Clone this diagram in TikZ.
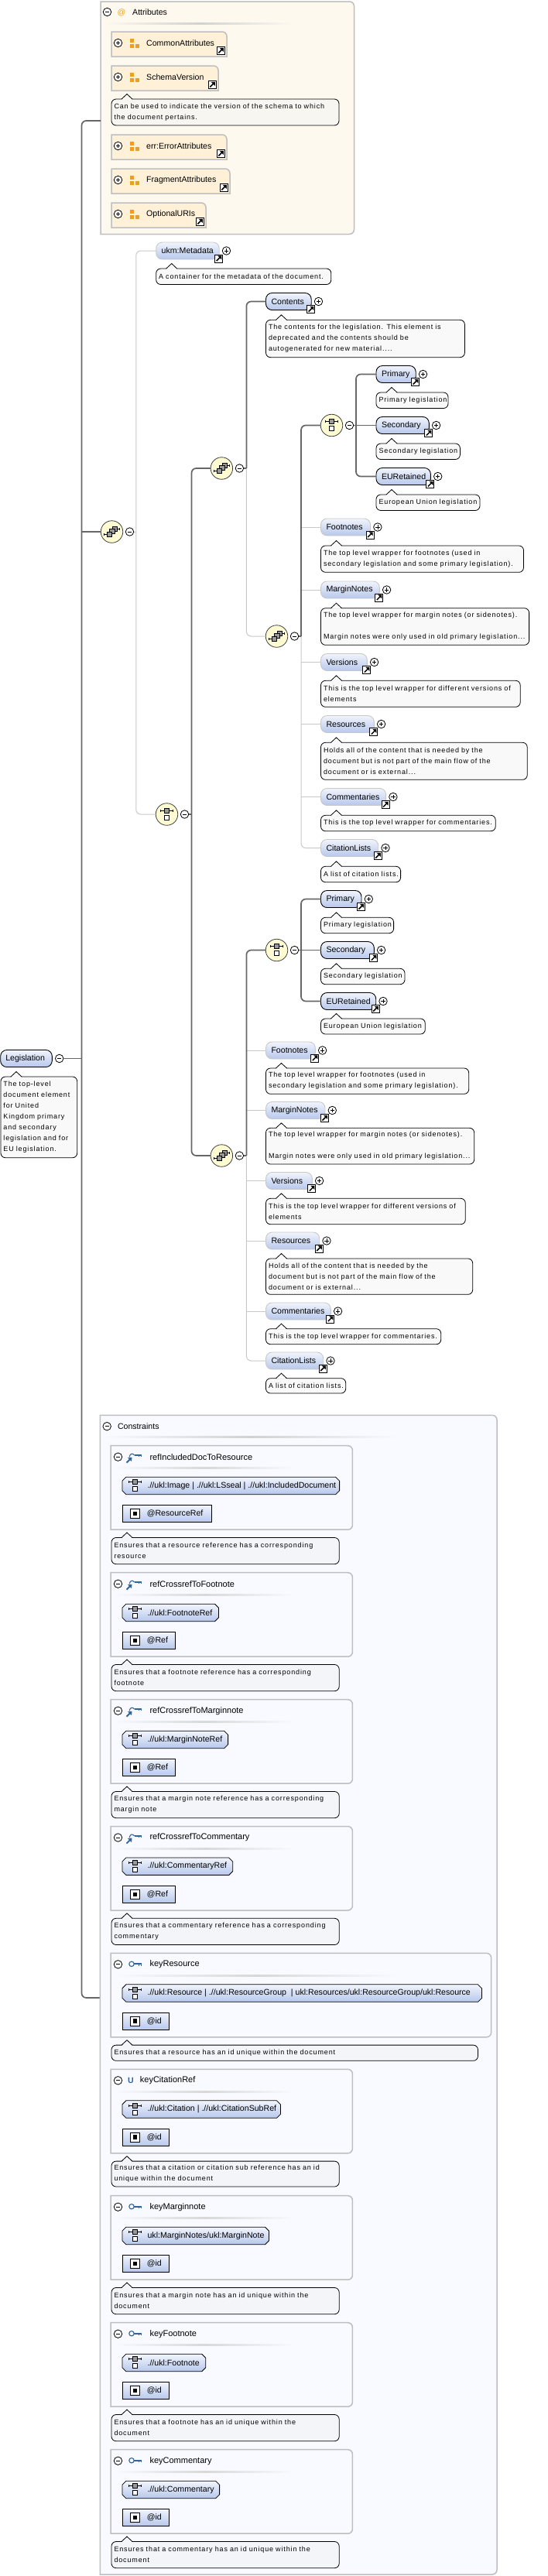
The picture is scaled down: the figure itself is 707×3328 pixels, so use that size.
\documentclass[tikz,border=0pt]{standalone}
\usepackage{fontspec}
\setmainfont{Liberation Sans}
\newfontfamily\docfamily[LetterSpace=9.7]{Liberation Sans}
\usetikzlibrary{calc}
\definecolor{wiredark}{HTML}{666666}
\definecolor{wirelight}{HTML}{C8C8C8}
\definecolor{boxedge}{HTML}{BEBEBE}
\definecolor{attrback}{HTML}{FEF9EF}
\definecolor{attrgroup}{HTML}{FEF1D8}
\definecolor{attrmark}{HTML}{EDA020}
\definecolor{consback}{HTML}{F9FAFF}
\definecolor{elemtop}{HTML}{F1F4FC}
\definecolor{elembot}{HTML}{B7C8EC}
\definecolor{docmain}{HTML}{F9F9F9}
\definecolor{docattr}{HTML}{F8F6F1}
\definecolor{doccons}{HTML}{F4F5F9}
\definecolor{compfill}{HTML}{FEFBD2}
\definecolor{keyblue}{HTML}{2F659C}
\tikzset{
  x=1pt, y=-1pt,
  namefont/.style={font=\fontsize{10.6}{13}\selectfont},
  elembase/.style={namefont, rectangle, rounded corners=8pt, top color=elemtop, bottom color=elembot,
    minimum height=22pt, inner sep=0pt, outer sep=0pt, align=left},
  elemreq/.style={elembase, draw=black, line width=0.9pt},
  elemopt/.style={elembase, draw=wirelight, line width=0.9pt},
  docbox/.style={rectangle, rounded corners=6pt, draw=black, line width=0.8pt, inner xsep=3.5pt, inner ysep=0pt,
    outer sep=0pt, align=left, font=\docfamily\fontsize{9}{14}\selectfont},
  docline/.style={black, line width=0.8pt},
  wire/.style={wiredark, line width=1.7pt, rounded corners=6pt},
  lightwire/.style={wirelight, line width=1pt, rounded corners=6pt},
  btnbox/.style={circle, draw=black, fill=white, line width=0.8pt, minimum size=10.5pt, inner sep=0pt},
  linkbox/.style={rectangle, draw=black, fill=white, line width=0.9pt, minimum size=10pt, inner sep=0pt},
  compbox/.style={circle, draw=black!75, fill=compfill, line width=0.8pt, minimum size=28.5pt, inner sep=0pt},
  namelab/.style={namefont, anchor=west, inner sep=0pt},
  headlab/.style={font=\fontsize{11}{13}\selectfont, anchor=west, inner sep=0pt},
  subbox/.style={draw=boxedge, line width=1.5pt},
  selbox/.style={draw=black, line width=0.8pt, top color=elemtop, bottom color=elembot},
  fldbox/.style={rectangle, draw=black, line width=0.8pt, top color=elemtop, bottom color=elembot,
    minimum height=22.4pt, inner sep=0pt, outer sep=0pt, anchor=west},
  fldmark/.style={rectangle, draw=black, fill=white, line width=0.9pt, minimum size=12pt, inner sep=0pt},
  choiceglyph/.pic={
    \draw[black, line width=0.7pt] (-8.2,-5) -- (8.2,-5);
    \draw[black, line width=0.7pt] (-8.2,-6.5) -- (-8.2,-3.5) (8.2,-6.5) -- (8.2,-3.5);
    \draw[black, fill=black!40, line width=0.6pt] (-3.1,-8) rectangle (3.1,-2);
    \draw[black, fill=white, line width=0.7pt] (-3.1,1.3) rectangle (3.1,7.3);
  },
  allofglyph/.pic={
    \draw[black, line width=0.7pt] (-10,3.5) -- (-5,3.5) (5,-3.5) -- (10,-3.5);
    \draw[black, line width=0.7pt] (-10,2) -- (-10,5) (10,-5) -- (10,-2);
    \draw[black, fill=black!40, line width=0.6pt] (0.5,-6.5) rectangle (7,-0.5);
    \draw[black, fill=black!40, line width=0.6pt] (-3,-3.5) rectangle (3.5,2.5);
    \draw[black, fill=black!40, line width=0.6pt] (-6.5,0) rectangle (0,6.5);
  },
  keyglyph/.pic={
    \draw[keyblue, line width=1.1pt] (170,0) circle (3.2);
    \draw[keyblue, line width=1.7pt] (173,0) -- (183,0);
    \draw[keyblue, line width=1.3pt] (179.8,0) -- (179.8,2.2) (182.4,0) -- (182.4,2.2);
  },
  refglyph/.pic={
    \draw[keyblue, line width=1.1pt] (167.2,1.5) .. controls (168,-3.5) and (172,-3.5) .. (173.5,-0.5);
    \draw[keyblue, line width=1.7pt] (173.5,-0.5) -- (183,-0.5);
    \draw[keyblue, line width=1.3pt] (179.8,-0.5) -- (179.8,1.7) (182.4,-0.5) -- (182.4,1.7);
    \draw[keyblue, line width=1.8pt] (163.5,9) -- (168.5,4);
    \fill[keyblue] (170.5,2) -- (170,7.5) -- (165,2.5) -- cycle;
  },
}
\newcommand{\plusbtn}[2]{\node[btnbox] (#1) at (#2) {};
  \draw[black, line width=0.7pt] (#1.center) ++(-2.6,0) -- ++(5.2,0) (#1.center) ++(0,-2.6) -- ++(0,5.2);}
\newcommand{\minusbtn}[2]{\node[btnbox] (#1) at (#2) {};
  \draw[black, line width=0.7pt] (#1.center) ++(-2.6,0) -- ++(5.2,0);}
\newcommand{\docnode}[7]{% id, fill, left, right, top, bottom, text
  \pgfmathsetmacro\docw{(#4)-(#3)}\pgfmathsetmacro\doch{(#6)-(#5)}\pgfmathsetmacro\doctw{\docw-7}
  \node[docbox, fill=#2, minimum width=\docw pt, minimum height=\doch pt, text width=\doctw pt, anchor=north west] (#1) at (#3,#5) {#7};
  \fill[#2] (#3+13,#5+1) -- (#3+20,#5-6.5) -- (#3+27,#5+1) -- cycle;
  \draw[docline] (#3+13,#5) -- (#3+20,#5-6.5) -- (#3+27,#5);}
\newcommand{\rightround}[6]{% style, fill, left, top, right, bottom
  \draw[#1, fill=#2] (#3,#6) [rounded corners=6pt] -- (#5,#6) -- (#5,#4) [sharp corners] -- (#3,#4) -- cycle;}
\begin{document}
\begin{tikzpicture}
  \useasboundingbox (0,0) rectangle (707,3328);
  % Attributes panel
  \rightround{subbox}{attrback}{130}{2}{457.5}{302.5}
  \minusbtn{attrsbtn}{138.5,15.5}
  \node[namefont, text=attrmark, inner sep=0pt] (attrsmark) at (157,16.5) {@};
  \node[namelab] (attrslab) at (171,16) {Attributes};
  \shade[left color=attrback, right color=attrback, middle color=boxedge!70] (135,29) rectangle (380,31);
  \foreach \id/\lab/\rgt/\t in {common/CommonAttributes/293/41, schema/SchemaVersion/282/85,
      errattr/err:ErrorAttributes/293/174, fragment/FragmentAttributes/297/218, uris/OptionalURIs/266/262} {
    \draw[subbox, fill=attrgroup] (144,\t+32) -- (\rgt,\t+32) [rounded corners=6pt] -- (\rgt,\t) [sharp corners] -- (144,\t) -- cycle;
    \plusbtn{\id-btn}{152.5,\t+14.5}
    \fill[attrmark] (168,\t+9) rectangle (172.7,\t+14);
    \fill[attrmark] (168,\t+16.3) rectangle (172.7,\t+21);
    \fill[attrmark] (174.7,\t+16.3) rectangle (180,\t+21);
    \node[namelab] (\id) at (189,\t+14.5) {\lab};
    \node[linkbox] (\id-link) at (\rgt-7.7,\t+24.5) {};
    \draw[black, line width=1.5pt] (\id-link.center) ++(-3,3) -- ++(5,-5);
    \fill[black] (\id-link.center) ++(3.6,-3.6) -- ++(-5,0) -- ++(5,5) -- cycle;
  }
  \docnode{schema-doc}{docattr}{144}{438}{128}{162}{Can be used to indicate the version of the schema to which\\the document pertains.}
  % Bus points
  \coordinate (attrsport) at (130,156);
  \coordinate (consport) at (129,2581);
  \coordinate (trunk) at (105.5,1367.5);
  \coordinate (busmeta) at (175.8,687);
  \coordinate (buschoice) at (247.5,1052);
  \coordinate (busupper) at (318.4,605);
  \coordinate (busnotes) at (389,822);
  \coordinate (busprim) at (460,549.5);
  \coordinate (buslower) at (318.4,1493);
  \coordinate (busprimb) at (389,1227.5);
  % Elements
  \foreach \id/\lab/\lft/\rgt/\y/\sty in {
      metadata/ukm:Metadata/201.7/283.2/324/elemopt,
      contents/Contents/343.5/402.2/389.5/elemreq,
      primary/Primary/486/537.2/483.5/elemreq,
      secondary/Secondary/486/554.3/549.5/elemreq,
      euretained/EURetained/486/556.4/615.5/elemreq,
      footnotes/Footnotes/414.5/478.6/681/elemopt,
      marginnotes/MarginNotes/414.5/490.3/762/elemopt,
      versions/Versions/414.5/474.3/855.5/elemopt,
      resources/Resources/414.5/483.3/935.5/elemopt,
      commentaries/Commentaries/414.5/498.6/1029.5/elemopt,
      citationlists/CitationLists/414.5/488.7/1095.5/elemopt,
      primaryb/Primary/414.5/467/1161.5/elemreq,
      secondaryb/Secondary/414.5/483.3/1227.5/elemreq,
      euretainedb/EURetained/414.5/485.7/1293.5/elemreq,
      footnotesb/Footnotes/343.5/407.3/1357/elemopt,
      marginnotesb/MarginNotes/343.5/420/1434.5/elemopt,
      versionsb/Versions/343.5/403.3/1525.5/elemopt,
      resourcesb/Resources/343.5/412.7/1603/elemopt,
      commentariesb/Commentaries/343.5/427.3/1694/elemopt,
      citationlistsb/CitationLists/343.5/417.7/1758/elemopt} {
    \pgfmathsetmacro\elw{\rgt-\lft}
    \node[\sty, minimum width=\elw pt, text width=\elw pt, anchor=west] (\id) at (\lft,\y) {\mbox{\hspace{7pt}\lab}};
    \node[linkbox] (\id-link) at (\rgt-0.5,\y+10) {};
    \draw[black, line width=1.5pt] (\id-link.center) ++(-3,3) -- ++(5,-5);
    \fill[black] (\id-link.center) ++(3.6,-3.6) -- ++(-5,0) -- ++(5,5) -- cycle;
    \plusbtn{\id-btn}{\rgt+9.3,\y}
  }
  \node[elemreq, minimum width=66.6pt, text width=66.6pt, anchor=west] (legislation) at (0.7,1367.5) {\mbox{\hspace{6.6pt}Legislation}};
  \minusbtn{legislation-btn}{76.7,1367.5}
  % Compositors
  \foreach \id/\x/\y in {seqmain/144.5/687, allofa/286.4/605, allofb/357.5/822, allofc/286.4/1493} {
    \node[compbox] (\id) at (\x,\y) {};
    \pic at (\id) {allofglyph};
    \minusbtn{\id-btn}{\x+23,\y}
  }
  \foreach \id/\x/\y in {choicea/215.5/1052, choiceb/428.5/549.5, choicec/357.5/1227.5} {
    \node[compbox] (\id) at (\x,\y) {};
    \pic at (\id) {choiceglyph};
    \minusbtn{\id-btn}{\x+23,\y}
  }
  % Connectors
  \draw[wire] (attrsport) -| (trunk) |- (consport);
  \draw[wire] (legislation-btn) -- (trunk);
  \draw[wire] (seqmain.west) -- (seqmain.west -| trunk);
  \draw[lightwire] (seqmain-btn) -- (busmeta);
  \draw[lightwire] (metadata.west) -| (busmeta) |- (choicea.west);
  \draw[wire] (choicea-btn) -- (buschoice);
  \draw[wire] (allofa.west) -| (buschoice) |- (allofc.west);
  \draw[lightwire] (busupper) |- (allofb.west);
  \draw[wire] (contents.west) -| (busupper);
  \draw[wire] (allofa-btn) -- (busupper);
  \foreach \id in {footnotes, marginnotes, versions, resources, commentaries} {
    \draw[lightwire] (\id.west) -- (\id.west -| busnotes);
  }
  \draw[lightwire] (busnotes) |- (citationlists.west);
  \draw[wire] (choiceb.west) -| (busnotes);
  \draw[wire] (allofb-btn) -- (busnotes);
  \draw[wire] (primary.west) -| (busprim) |- (euretained.west);
  \draw[wire] (choiceb-btn) -- (secondary.west);
  \foreach \id in {footnotesb, marginnotesb, versionsb, resourcesb, commentariesb} {
    \draw[lightwire] (\id.west) -- (\id.west -| buslower);
  }
  \draw[lightwire] (buslower) |- (citationlistsb.west);
  \draw[wire] (choicec.west) -| (buslower);
  \draw[wire] (allofc-btn) -- (buslower);
  \draw[wire] (primaryb.west) -| (busprimb) |- (euretainedb.west);
  \draw[wire] (choicec-btn) -- (secondaryb.west);
  % Documentation bubbles
  \foreach \id/\lft/\rgt/\t/\b/\txt in {
      metadata-doc/201.7/427.8/347/367.5/{A container for the metadata of the document.},
      contents-doc/343.5/600.4/413.3/461.7/{The contents for the legislation. This element is\\deprecated and the contents should be\\autogenerated for new material....},
      primary-doc/486/579/507/527.5/{Primary legislation},
      secondary-doc/486/594.4/573/593.5/{Secondary legislation},
      euretained-doc/486/620/639/659.5/{European Union legislation},
      footnotes-doc/414.5/676.5/705/739.3/{The top level wrapper for footnotes (used in\\secondary legislation and some primary legislation).},
      marginnotes-doc/414.5/683.6/785.7/833.3/{The top level wrapper for margin notes (or sidenotes).\\[14pt]Margin notes were only used in old primary legislation...},
      versions-doc/414.5/672.2/879.3/913.3/{This is the top level wrapper for different versions of\\elements},
      resources-doc/414.5/681.2/959.3/1007.3/{Holds all of the content that is needed by the\\document but is not part of the main flow of the\\document or is external...},
      commentaries-doc/414.5/640.2/1053.3/1073.7/{This is the top level wrapper for commentaries.},
      citationlists-doc/414.5/517.6/1119.3/1139.7/{A list of citation lists.},
      primaryb-doc/414.5/508.6/1185.3/1205.7/{Primary legislation},
      secondaryb-doc/414.5/523/1251.3/1271.7/{Secondary legislation},
      euretainedb-doc/414.5/549.3/1316/1336/{European Union legislation},
      footnotesb-doc/343.5/605.7/1380/1413.3/{The top level wrapper for footnotes (used in\\secondary legislation and some primary legislation).},
      marginnotesb-doc/343.5/612.7/1457.3/1504/{The top level wrapper for margin notes (or sidenotes).\\[14pt]Margin notes were only used in old primary legislation...},
      versionsb-doc/343.5/601.3/1548.3/1581.7/{This is the top level wrapper for different versions of\\elements},
      resourcesb-doc/343.5/610.7/1626/1672.3/{Holds all of the content that is needed by the\\document but is not part of the main flow of the\\document or is external...},
      commentariesb-doc/343.5/569.7/1716.7/1736.7/{This is the top level wrapper for commentaries.},
      citationlistsb-doc/343.5/446.7/1780.7/1800/{A list of citation lists.},
      legislation-doc/1/99.7/1391/1495.7/{The top-level\\document element\\for United\\Kingdom primary\\and secondary\\legislation and for\\EU legislation.}} {
    \docnode{\id}{docmain}{\lft}{\rgt}{\t}{\b}{\txt}
  }
  % Constraints panel
  \rightround{subbox}{consback}{129.3}{1828.3}{642}{3326}
  \minusbtn{consbtn}{138.2,1842.7}
  \node[namelab] (conslab) at (151.8,1843) {Constraints};
  \shade[left color=consback, right color=consback, middle color=boxedge!70] (133,1855.7) rectangle (515,1857.7);
  \foreach \id/\lab/\labx/\T/\bxr/\sel/\selr/\fld/\fldr/\docr/\docb/\txt in {
      refresource/refIncludedDocToResource/193.3/1867.7/455.4/{.//ukl:Image | .//ukl:LSseal | .//ukl:IncludedDocument}/438.6/@ResourceRef/273.6/438.2/153/{Ensures that a resource reference has a corresponding\\resource},
      reffootnote/refCrossrefToFootnote/193.3/2031.7/455.4/{.//ukl:FootnoteRef}/282.5/@Ref/226.8/438.2/153/{Ensures that a footnote reference has a corresponding\\footnote},
      refmargin/refCrossrefToMarginnote/193.3/2195.7/455.4/{.//ukl:MarginNoteRef}/294.6/@Ref/226.8/438.2/153/{Ensures that a margin note reference has a corresponding\\margin note},
      refcomment/refCrossrefToCommentary/193.3/2359.5/455.4/{.//ukl:CommentaryRef}/300.7/@Ref/226.8/438.2/153/{Ensures that a commentary reference has a corresponding\\commentary},
      keyresource/keyResource/193.3/2523.3/634.6/{.//ukl:Resource | .//ukl:ResourceGroup\ \ | ukl:Resources/ukl:ResourceGroup/ukl:Resource}/622.5/@id/218.6/617.5/139/{Ensures that a resource has an id unique within the document},
      keycitation/keyCitationRef/180.7/2673.3/455.4/{.//ukl:Citation | .//ukl:CitationSubRef}/362.5/@id/218.6/438.2/151.7/{Ensures that a citation or citation sub reference has an id\\unique within the document},
      keymargin/keyMarginnote/193.3/2836.7/455.4/{ukl:MarginNotes/ukl:MarginNote}/347.5/@id/218.6/438.2/153/{Ensures that a margin note has an id unique within the\\document},
      keyfootnote/keyFootnote/193.3/3000.7/455.4/{.//ukl:Footnote}/265.7/@id/218.6/438.2/153/{Ensures that a footnote has an id unique within the\\document},
      keycomment/keyCommentary/193.3/3164.7/455.4/{.//ukl:Commentary}/283.6/@id/218.6/438.2/153/{Ensures that a commentary has an id unique within the\\document}} {
    \rightround{subbox}{consback}{143.2}{\T}{\bxr}{\T+108.5}
    \minusbtn{\id-btn}{152.5,\T+14.5}
    \node[headlab] (\id) at (\labx,\T+14.5) {\lab};
    \pgfmathsetmacro\ruler{147+(\bxr-143.2)*0.75}
    \shade[left color=consback, right color=consback, middle color=boxedge!60] (147,\T+28) rectangle (\ruler,\T+30);
    \shadedraw[selbox] (157.9,\T+45.5) -- (162.9,\T+40.5) -- (\selr-5,\T+40.5) -- (\selr,\T+45.5) -- (\selr,\T+58) -- (\selr-5,\T+63) -- (162.9,\T+63) -- (157.9,\T+58) -- cycle;
    \pic at (174.6,\T+51.7) {choiceglyph};
    \node[namelab] (\id-sel) at (190.4,\T+51.7) {\sel};
    \pgfmathsetmacro\fldw{\fldr-157.9}
    \node[fldbox, minimum width=\fldw pt] (\id-fld) at (157.9,\T+87.8) {};
    \node[fldmark] (\id-mark) at (174.6,\T+87.8) {};
    \fill[black] (\id-mark.center) ++(-2.7,-2.7) rectangle ++(5.4,5.4);
    \node[namelab] (\id-fldlab) at (189.6,\T+87.8) {\fld};
    \docnode{\id-doc}{doccons}{144}{\docr}{\T+118.8}{\T+\docb}{\txt}
  }
  \foreach \T in {1867.7, 2031.7, 2195.7, 2359.5} {
    \pic at (0,\T+13) {refglyph};
  }
  \foreach \T in {2523.3, 2836.7, 3000.7, 3164.7} {
    \pic at (0,\T+14) {keyglyph};
  }
  \node[font=\bfseries\fontsize{10.6}{13}\selectfont, text=keyblue, inner sep=0pt] (keycitation-mark) at (169,2688) {U};
\end{tikzpicture}
\end{document}
